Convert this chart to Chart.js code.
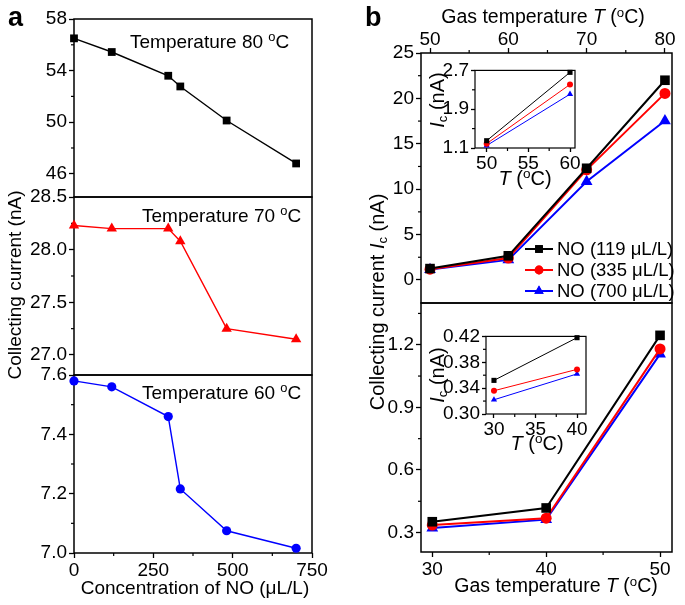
<!DOCTYPE html>
<html>
<head>
<meta charset="utf-8">
<script src="https://cdn.jsdelivr.net/npm/chart.js@4.4.1/dist/chart.umd.min.js"></script>
<style>
body{margin:0;background:#fff;width:685px;height:605px;position:relative;overflow:hidden;font-family:"Liberation Sans",Arial,sans-serif;}
canvas{position:absolute;}
.t{position:absolute;font-size:19px;line-height:1;white-space:nowrap;color:#000;}
.t sup{font-size:0.68em;vertical-align:0.5em;line-height:0;}
.t sub{font-size:0.65em;vertical-align:-0.2em;line-height:0;}
.lbl{position:absolute;font-weight:bold;font-size:27px;line-height:1;}
</style>
</head>
<body>
<canvas id="a80"></canvas>
<canvas id="a70"></canvas>
<canvas id="a60"></canvas>
<canvas id="bHigh"></canvas>
<canvas id="bLow"></canvas>
<canvas id="insHigh"></canvas>
<canvas id="insLow"></canvas>
<div id="texts"></div>
<script>
// panel a : collecting current vs NO concentration
var concNO = [0, 119, 297, 335, 481, 700];
var cur80 = [56.5, 55.44, 53.6, 52.77, 50.13, 46.8];
var cur70 = [28.23, 28.2, 28.2, 28.08, 27.25, 27.15];
var cur60 = [7.58, 7.56, 7.46, 7.216, 7.075, 7.016];
var concTicks = [0, 250, 500, 750];
var ticks80 = [46, 50, 54, 58];
var ticks70 = [27.0, 27.5, 28.0, 28.5];
var ticks60 = [7.0, 7.2, 7.4, 7.6];

// panel b : collecting current vs gas temperature
var tempHigh = [50, 60, 70, 80];
var ic119High = [1.25, 2.66, 12.3, 22.0];
var ic335High = [1.19, 2.41, 12.13, 20.55];
var ic700High = [1.15, 2.21, 10.84, 17.53];
var tempLow = [30, 40, 50];
var ic119Low = [0.352, 0.418, 1.245];
var ic335Low = [0.336, 0.369, 1.18];
var ic700Low = [0.322, 0.362, 1.155];
var seriesNames = ['NO (119 \u03bcL/L)', 'NO (335 \u03bcL/L)', 'NO (700 \u03bcL/L)'];
var highTTicks = [50, 60, 70, 80];
var highITicks = [0, 5, 10, 15, 20, 25];
var lowTTicks = [30, 40, 50];
var lowITicks = [0.3, 0.6, 0.9, 1.2];
var insHighTTicks = [50, 55, 60];
var insHighITicks = [1.1, 1.9, 2.7];
var insLowTTicks = [30, 35, 40];
var insLowITicks = [0.30, 0.34, 0.38, 0.42];

Chart.defaults.font.family = '"Liberation Sans", Arial, sans-serif';
Chart.defaults.font.size = 19;
Chart.defaults.color = '#000';
Chart.defaults.animation = false;

// frame, minor ticks and custom legend
var boxPlugin = {
    id: 'boxTicks',
    beforeDraw: function(chart, args, opts){
        if (opts.fill){
            var a = chart.chartArea, ctx = chart.ctx;
            ctx.save();
            ctx.fillStyle = '#fff';
            ctx.fillRect(a.left, a.top, a.right - a.left, a.bottom - a.top);
            ctx.restore();
        }
    },
    beforeDatasetsDraw: function(chart, args, opts){
        var a = chart.chartArea, ctx = chart.ctx;
        ctx.save();
        ctx.strokeStyle = '#000';
        ctx.lineWidth = opts.lw || 1.5;
        ctx.strokeRect(a.left, a.top, a.right - a.left, a.bottom - a.top);
        ctx.lineWidth = 1.2;
        (opts.minor || []).forEach(function(id){
            var s = chart.scales[id];
            if (!s.options.display) return;
            var v = s.ticks.map(function(t){ return t.value; });
            var step = v[1] - v[0];
            var m = [];
            for (var i = 0; i < v.length - 1; i++) m.push((v[i] + v[i+1]) / 2);
            var marg = (s.max - s.min) * 0.03;
            if (v[0] - step/2 > s.min + marg) m.push(v[0] - step/2);
            if (v[v.length-1] + step/2 < s.max - marg) m.push(v[v.length-1] + step/2);
            m.forEach(function(val){
                var p = s.getPixelForValue(val);
                ctx.beginPath();
                if (s.position === 'left'){ ctx.moveTo(a.left, p); ctx.lineTo(a.left - 3, p); }
                else if (s.position === 'top'){ ctx.moveTo(p, a.top); ctx.lineTo(p, a.top - 3); }
                else { ctx.moveTo(p, a.bottom); ctx.lineTo(p, a.bottom + 3); }
                ctx.stroke();
            });
        });
        ctx.restore();
    },
    afterDraw: function(chart, args, opts){
        if (!opts.legend) return;
        var a = chart.chartArea, ctx = chart.ctx;
        ctx.save();
        chart.data.datasets.forEach(function(ds, i){
            var y = a.top + opts.legend.y + i * opts.legend.dy;
            var x0 = a.left + opts.legend.x;
            ctx.strokeStyle = ds.borderColor;
            ctx.lineWidth = 2;
            ctx.beginPath(); ctx.moveTo(x0, y); ctx.lineTo(x0 + 28, y); ctx.stroke();
            ctx.fillStyle = ds.borderColor;
            Chart.helpers.drawPoint(ctx, {pointStyle: ds.pointStyle, radius: ds.pointRadius * 0.8, borderWidth: 0}, x0 + 14, y);
            ctx.fill();
            ctx.fillStyle = '#000';
            ctx.font = '18.5px "Liberation Sans", Arial, sans-serif';
            ctx.textBaseline = 'middle';
            ctx.fillText(ds.label, x0 + 32, y + 1);
        });
        ctx.restore();
    }
};

function fmt(d){ return function(v){ return Number(v).toFixed(d); }; }

function series(xs, ys, color, style, r, lw, label){
    return {
        label: label || '',
        data: xs.map(function(x, i){ return {x: x, y: ys[i]}; }),
        borderColor: color, backgroundColor: color,
        pointBackgroundColor: color, pointBorderColor: color, pointBorderWidth: 0,
        borderWidth: lw, pointStyle: style, pointRadius: r, pointHoverRadius: r,
        tension: 0, clip: false
    };
}

// box = plot area [left, top, width, height] on the page, pad = [left, right, top, bottom]
function lineChart(id, box, pad, o){
    var c = document.getElementById(id);
    c.style.left = (box[0] - pad[0]) + 'px';
    c.style.top = (box[1] - pad[2]) + 'px';
    c.width = box[2] + pad[0] + pad[1];
    c.height = box[3] + pad[2] + pad[3];
    var xPos = o.xPos || 'bottom';
    var xShow = o.xShow !== false;
    var tl = o.tickLen || 5;
    var grid = {drawOnChartArea: false, drawTicks: true, tickLength: tl, tickWidth: 1.3, tickColor: '#000'};
    var xs = {
        type: 'linear', position: xPos, display: xShow, min: o.xr[0], max: o.xr[1],
        grid: grid, border: {display: false},
        ticks: {autoSkip: false, maxRotation: 0, padding: o.xPad || 0, callback: fmt(o.xd || 0),
            font: {lineHeight: xPos === 'top' ? 0.9 : 1.2}},
        afterBuildTicks: function(s){ s.ticks = o.xTicks.map(function(v){ return {value: v}; }); }
    };
    if (xShow) xs.afterFit = function(s){ s.height = xPos === 'top' ? pad[2] : pad[3]; };
    var ys = {
        type: 'linear', position: 'left', min: o.yr[0], max: o.yr[1],
        grid: grid, border: {display: false},
        ticks: {autoSkip: false, padding: 2, callback: fmt(o.yd || 0)},
        afterBuildTicks: function(s){ s.ticks = o.yTicks.map(function(v){ return {value: v}; }); },
        afterFit: function(s){ s.width = pad[0]; }
    };
    return new Chart(c, {
        type: 'line',
        data: {datasets: o.datasets},
        options: {
            responsive: false, devicePixelRatio: 1, events: [],
            layout: {padding: {left: 0, right: pad[1],
                top: (xShow && xPos === 'top') ? 0 : pad[2],
                bottom: (xShow && xPos === 'bottom') ? 0 : pad[3]}},
            scales: {x: xs, y: ys},
            plugins: {legend: {display: false}, tooltip: {enabled: false},
                boxTicks: {minor: ['x', 'y'], fill: o.fill, legend: o.legend, lw: o.lw}}
        },
        plugins: [boxPlugin]
    });
}

// panel a
lineChart('a80', [74, 19, 238, 178], [60, 20, 14, 14], {
    xShow: false, xr: [0, 750], xTicks: concTicks, yr: [44.2, 58], yTicks: ticks80,
    datasets: [series(concNO, cur80, '#000000', 'rect', 5.5, 1.4)]
});
lineChart('a70', [74, 197, 238, 178], [60, 20, 14, 14], {
    xShow: false, xr: [0, 750], xTicks: concTicks, yr: [26.81, 28.5], yTicks: ticks70, yd: 1,
    datasets: [series(concNO, cur70, '#ff0000', 'triangle', 6, 1.4)]
});
lineChart('a60', [74, 375, 238, 178], [60, 20, 14, 30], {
    xr: [0, 750], xTicks: concTicks, yr: [7.0, 7.6], yTicks: ticks60, yd: 1, xPad: 1,
    datasets: [series(concNO, cur60, '#0000ff', 'circle', 4.6, 1.4)]
});

// panel b
lineChart('bHigh', [421, 53, 251, 250], [45, 10, 30, 14], {
    xPos: 'top', xr: [48.85, 80.9], xTicks: highTTicks, yr: [-2.54, 25], yTicks: highITicks,
    legend: {x: 104, y: 196, dy: 21},
    datasets: [
        series(tempHigh, ic119High, '#000000', 'rect', 6.8, 2, seriesNames[0]),
        series(tempHigh, ic335High, '#ff0000', 'circle', 5.5, 2, seriesNames[1]),
        series(tempHigh, ic700High, '#0000ff', 'triangle', 6.8, 2, seriesNames[2])
    ]
});
lineChart('bLow', [421, 303, 251, 249], [45, 12, 14, 30], {
    xr: [29.01, 51.05], xTicks: lowTTicks, yr: [0.207, 1.40], yTicks: lowITicks, yd: 1, xPad: 1,
    datasets: [
        series(tempLow, ic119Low, '#000000', 'rect', 6.8, 2),
        series(tempLow, ic335Low, '#ff0000', 'circle', 5.5, 2),
        series(tempLow, ic700Low, '#0000ff', 'triangle', 6.8, 2)
    ]
});

// insets
lineChart('insHigh', [475, 69, 100, 79], [40, 12, 12, 26], {
    fill: true, lw: 1.2, tickLen: 4, xr: [48.6, 60.6], xTicks: insHighTTicks, yr: [1.1, 2.7], yTicks: insHighITicks, yd: 1,
    datasets: [
        series(tempHigh.slice(0, 2), ic119High.slice(0, 2), '#000000', 'rect', 3.6, 1),
        series(tempHigh.slice(0, 2), ic335High.slice(0, 2), '#ff0000', 'circle', 3, 1),
        series(tempHigh.slice(0, 2), ic700High.slice(0, 2), '#0000ff', 'triangle', 3.6, 1)
    ]
});
lineChart('insLow', [486, 335, 100, 79], [50, 12, 12, 26], {
    fill: true, lw: 1.2, tickLen: 4, xr: [29.04, 41.08], xTicks: insLowTTicks, yr: [0.30, 0.42], yTicks: insLowITicks, yd: 2,
    datasets: [
        series(tempLow.slice(0, 2), ic119Low.slice(0, 2), '#000000', 'rect', 3.6, 1),
        series(tempLow.slice(0, 2), ic335Low.slice(0, 2), '#ff0000', 'circle', 3, 1),
        series(tempLow.slice(0, 2), ic700Low.slice(0, 2), '#0000ff', 'triangle', 3.6, 1)
    ]
});

// text labels
function addText(html, x, y, how, size){
    var d = document.createElement('div');
    d.className = 't';
    d.innerHTML = html;
    d.style.left = x + 'px';
    d.style.top = y + 'px';
    if (size) d.style.fontSize = size + 'px';
    var tr = how === 'left' ? 'translate(0,-50%)' : 'translate(-50%,-50%)';
    if (how === 'rot') tr += ' rotate(-90deg)';
    d.style.transform = tr;
    document.getElementById('texts').appendChild(d);
}
var degC = '(<sup>o</sup>C)';
var gasT = 'Gas temperature <i>T</i> ' + degC;
var icLabel = '<i>I</i><sub>c</sub> (nA)';
addText('Temperature 80 <sup>o</sup>C', 130, 41, 'left');
addText('Temperature 70 <sup>o</sup>C', 142, 215, 'left');
addText('Temperature 60 <sup>o</sup>C', 142, 392, 'left');
addText('Collecting current (nA)', 14, 285, 'rot');
addText('Concentration of NO (\u03bcL/L)', 195, 587);
addText(gasT, 543, 17, null, 19.5);
addText(gasT, 556, 586, null, 19.5);
addText('Collecting current ' + icLabel, 377, 302, 'rot', 20);
addText(icLabel, 437, 100, 'rot', 20);
addText('<i>T</i> ' + degC, 525, 178, null, 20);
addText(icLabel, 437, 375, 'rot', 20);
addText('<i>T</i> ' + degC, 537, 443, null, 20);

var la = document.createElement('div'); la.className = 'lbl'; la.textContent = 'a';
la.style.left = '8px'; la.style.top = '4px'; document.body.appendChild(la);
var lb = document.createElement('div'); lb.className = 'lbl'; lb.textContent = 'b';
lb.style.left = '365px'; lb.style.top = '4px'; document.body.appendChild(lb);
</script>
</body>
</html>
